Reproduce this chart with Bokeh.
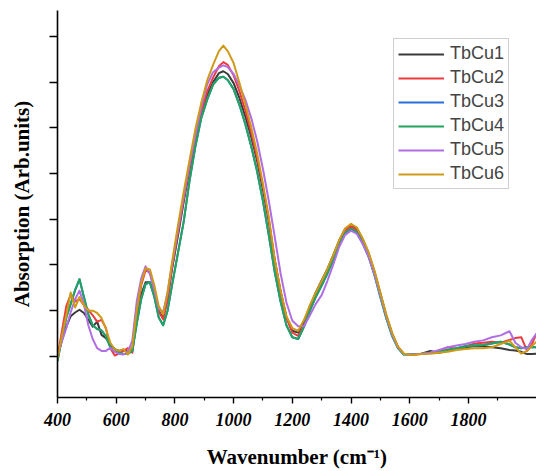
from bokeh.plotting import figure
from bokeh.models import FixedTicker, Legend, LegendItem, Range1d
from bokeh.embed import file_html
from bokeh.resources import INLINE

# Wavenumber grid (cm^-1)
wavenumber = [400, 415, 430, 445, 460, 475, 490, 505, 520, 535, 550, 565, 580, 595, 610, 625, 640,
              655, 670, 685, 700, 715, 730, 745, 760, 775, 790,
              810, 830, 850, 870, 890, 910, 930, 950,
              965, 980,
              1000, 1020, 1040, 1060, 1080, 1100, 1120, 1140, 1160, 1180, 1200, 1220, 1240, 1260, 1280,
              1300, 1320, 1340, 1360, 1380, 1400, 1420, 1440, 1460, 1480, 1500, 1520, 1540, 1560, 1580,
              1610, 1640, 1670, 1700, 1730, 1760, 1790, 1820, 1850, 1880, 1910,
              1940, 1960, 1980, 2000, 2015, 2032]

tbcu1 = [0.00, 0.35, 0.65, 0.88, 0.96, 1.02, 0.95, 0.80, 0.65, 0.76, 0.47, 0.40, 0.26, 0.16, 0.12, 0.15, 0.10,
         0.15, 0.85, 1.35, 1.62, 1.62, 1.35, 1.00, 0.84, 1.25, 1.90,
         2.62, 3.38, 4.10, 4.75, 5.30, 5.72, 6.00, 6.20,
         6.24, 6.18,
         5.98, 5.65, 5.25, 4.80, 4.28, 3.65, 2.95, 2.10, 1.42, 0.86, 0.56, 0.52, 0.76, 1.10, 1.40,
         1.66, 1.92, 2.22, 2.54, 2.79, 2.88, 2.80, 2.56, 2.25, 1.85, 1.38, 0.90, 0.50, 0.20, 0.05,
         0.04, 0.06, 0.12, 0.08, 0.12, 0.15, 0.20, 0.22, 0.22, 0.20, 0.18,
         0.14, 0.13, 0.10, 0.05, 0.05, 0.06]

tbcu2 = [-0.02, 0.55, 1.10, 1.35, 1.20, 1.26, 1.12, 1.02, 0.90, 0.76, 0.80, 0.62, 0.18, 0.02, 0.06, 0.12, 0.18,
         0.08, 0.85, 1.55, 1.88, 1.84, 1.45, 0.98, 0.81, 1.25, 1.95,
         2.70, 3.45, 4.15, 4.80, 5.35, 5.80, 6.10, 6.35,
         6.44, 6.38,
         6.15, 5.80, 5.38, 4.90, 4.35, 3.72, 3.00, 2.12, 1.42, 0.85, 0.52, 0.45, 0.68, 1.02, 1.32,
         1.58, 1.85, 2.15, 2.48, 2.75, 2.84, 2.76, 2.52, 2.22, 1.82, 1.35, 0.88, 0.48, 0.20, 0.05,
         0.04, 0.05, 0.08, 0.12, 0.20, 0.16, 0.22, 0.28, 0.30, 0.32, 0.30,
         0.36, 0.40, 0.42, 0.12, 0.25, 0.50]

# TbCu3 lies underneath the later curves (not visible in the reference)
tbcu3 = [-0.10, 0.40, 0.85, 1.15, 1.45, 1.69, 1.30, 0.92, 0.68, 0.60, 0.57, 0.44, 0.20, 0.12, 0.08, 0.05, 0.06,
         0.12, 0.72, 1.25, 1.58, 1.62, 1.30, 0.85, 0.68, 1.00, 1.55,
         2.25, 2.95, 3.85, 4.60, 5.22, 5.62, 5.95, 6.10,
         6.12, 6.05,
         5.85, 5.50, 5.08, 4.60, 4.05, 3.40, 2.65, 1.85, 1.20, 0.68, 0.42, 0.38, 0.65, 1.00, 1.30,
         1.55, 1.82, 2.12, 2.45, 2.70, 2.79, 2.72, 2.48, 2.18, 1.78, 1.30, 0.84, 0.45, 0.18, 0.04,
         0.05, 0.06, 0.08, 0.10, 0.14, 0.18, 0.22, 0.24, 0.25, 0.28, 0.32,
         0.26, 0.20, 0.18, 0.20, 0.20, 0.20]

tbcu4 = [-0.10, 0.40, 0.85, 1.15, 1.45, 1.69, 1.30, 0.92, 0.68, 0.60, 0.57, 0.44, 0.20, 0.12, 0.08, 0.05, 0.06,
         0.12, 0.72, 1.25, 1.58, 1.62, 1.30, 0.85, 0.68, 1.00, 1.55,
         2.25, 2.95, 3.85, 4.60, 5.22, 5.62, 5.95, 6.10,
         6.12, 6.05,
         5.85, 5.50, 5.08, 4.60, 4.05, 3.40, 2.65, 1.85, 1.20, 0.68, 0.42, 0.38, 0.65, 1.00, 1.30,
         1.55, 1.82, 2.12, 2.45, 2.70, 2.79, 2.72, 2.48, 2.18, 1.78, 1.30, 0.84, 0.45, 0.18, 0.04,
         0.05, 0.06, 0.08, 0.10, 0.14, 0.18, 0.22, 0.24, 0.25, 0.28, 0.32,
         0.26, 0.20, 0.18, 0.20, 0.20, 0.20]

tbcu5 = [0.00, 0.33, 0.62, 0.97, 1.25, 1.44, 1.14, 0.68, 0.38, 0.18, 0.12, 0.12, 0.19, 0.10, 0.05, 0.04, 0.10,
         0.35, 1.20, 1.70, 1.97, 1.80, 1.45, 1.05, 0.96, 1.40, 2.00,
         2.75, 3.50, 4.20, 4.85, 5.45, 5.95, 6.22, 6.32,
         6.37, 6.33,
         6.18, 5.92, 5.62, 5.22, 4.72, 4.10, 3.40, 2.62, 1.82, 1.18, 0.78, 0.66, 0.66, 0.90, 1.15,
         1.34, 1.66, 2.02, 2.40, 2.66, 2.75, 2.68, 2.46, 2.18, 1.80, 1.34, 0.88, 0.48, 0.20, 0.06,
         0.04, 0.06, 0.08, 0.14, 0.20, 0.24, 0.27, 0.32, 0.35, 0.42, 0.46,
         0.55, 0.30, 0.20, 0.16, 0.35, 0.50]

tbcu6 = [-0.05, 0.45, 0.90, 1.40, 1.07, 1.30, 1.12, 1.00, 1.00, 0.95, 0.84, 0.60, 0.30, 0.15, 0.12, 0.16, 0.04,
         0.22, 1.00, 1.60, 1.93, 1.90, 1.55, 1.10, 0.92, 1.40, 2.05,
         2.85, 3.60, 4.30, 4.98, 5.55, 6.04, 6.38, 6.68,
         6.80, 6.68,
         6.42, 5.98, 5.52, 5.02, 4.45, 3.78, 3.05, 2.12, 1.45, 0.88, 0.62, 0.56, 0.80, 1.12, 1.40,
         1.65, 1.92, 2.22, 2.55, 2.80, 2.90, 2.82, 2.58, 2.28, 1.88, 1.40, 0.92, 0.52, 0.22, 0.06,
         0.03, 0.05, 0.06, 0.08, 0.10, 0.14, 0.16, 0.18, 0.18, 0.20, 0.27,
         0.34, 0.20, 0.06, 0.12, 0.22, 0.32]

names = ["TbCu1", "TbCu2", "TbCu3", "TbCu4", "TbCu5", "TbCu6"]
series = [tbcu1, tbcu2, tbcu3, tbcu4, tbcu5, tbcu6]
colors = ["#3a3a3a", "#ee3a3f", "#2a6fe0", "#23a45c", "#b06ee4", "#cf9a17"]

x_major = [400, 600, 800, 1000, 1200, 1400, 1600, 1800]
x_minor = [500, 700, 900, 1100, 1300, 1500, 1700, 1900]
y_major = [0, 1, 2, 3, 4, 5, 6, 7]

p = figure(width=536, height=471, output_backend="svg", toolbar_location=None,
           x_range=Range1d(400, 2032), y_range=Range1d(-0.90, 7.57),
           min_border_left=57, min_border_right=0, min_border_top=10, min_border_bottom=74)
p.outline_line_color = None
p.xgrid.visible = False
p.ygrid.visible = False
p.background_fill_color = "white"
p.border_fill_color = "white"

items = []
for name, ys, c in zip(names, series, colors):
    r = p.line(wavenumber, ys, line_color=c, line_width=2, line_join="round")
    items.append(LegendItem(label=name, renderers=[r]))

legend = Legend(items=items, location=(336, 208), margin=0, padding=4, spacing=3,
                glyph_width=46, glyph_height=20, label_height=20, label_standoff=6,
                label_text_font="Liberation Sans", label_text_font_size="18px",
                border_line_color="#a0a0a0", border_line_width=1,
                background_fill_color="white", background_fill_alpha=1)
p.add_layout(legend, "center")

xa = p.xaxis[0]
xa.ticker = FixedTicker(ticks=x_major, minor_ticks=x_minor)
xa.axis_line_width = 1.6
xa.axis_line_color = "black"
xa.major_tick_line_width = 1.4
xa.minor_tick_line_width = 1.2
xa.major_tick_in = 0
xa.major_tick_out = 6
xa.minor_tick_in = 0
xa.minor_tick_out = 3
xa.major_label_text_font = "Liberation Serif"
xa.major_label_text_font_style = "bold italic"
xa.major_label_text_font_size = "18px"
xa.major_label_text_color = "black"
xa.major_label_standoff = 9
xa.axis_label = "Wavenumber (cm\u207b\u00b9)"
xa.axis_label_text_font = "Liberation Serif"
xa.axis_label_text_font_style = "bold"
xa.axis_label_text_font_size = "21px"
xa.axis_label_text_color = "black"
xa.axis_label_standoff = 16

ya = p.yaxis[0]
ya.ticker = FixedTicker(ticks=y_major, minor_ticks=[])
ya.axis_line_width = 1.6
ya.axis_line_color = "black"
ya.major_tick_line_width = 1.4
ya.major_tick_in = 0
ya.major_tick_out = 8
ya.major_label_overrides = {t: "" for t in y_major}
ya.major_label_text_font_size = "0px"
ya.major_label_standoff = 0
ya.axis_label = "Absorption (Arb.units)"
ya.axis_label_text_font = "Liberation Serif"
ya.axis_label_text_font_style = "bold"
ya.axis_label_text_font_size = "21px"
ya.axis_label_text_color = "black"
ya.axis_label_standoff = 16

open("out.html", "w").write(file_html(p, INLINE))
